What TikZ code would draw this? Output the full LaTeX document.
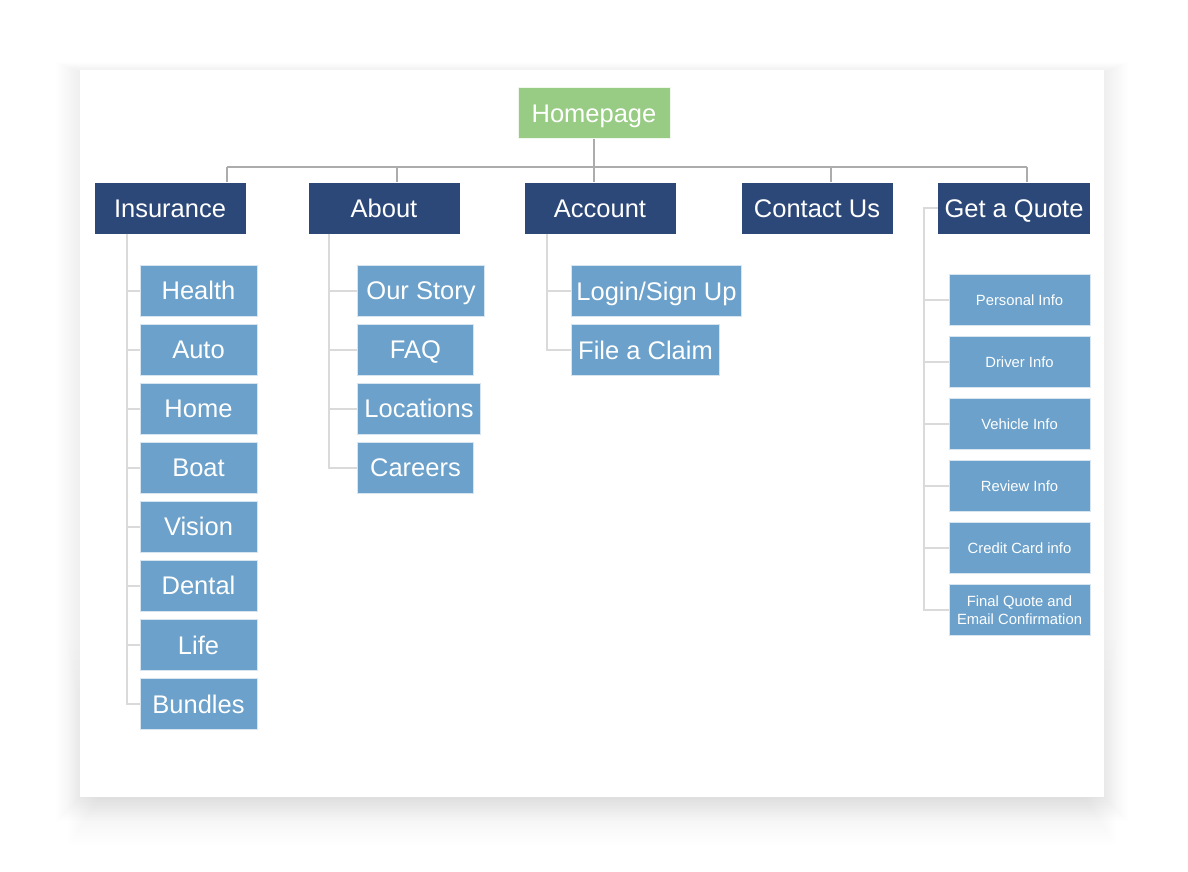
\documentclass[tikz,border=0pt]{standalone}
\usepackage{fontspec}
\setmainfont{Liberation Sans}
\definecolor{navybox}{RGB}{44,72,120}
\definecolor{subblue}{RGB}{107,161,202}
\definecolor{subedge}{RGB}{214,229,240}
\definecolor{homegreen}{RGB}{152,204,132}
\definecolor{busgray}{RGB}{172,172,172}
\definecolor{linkgray}{RGB}{218,218,218}
\begin{document}
\begin{tikzpicture}[x=1pt,y=-1pt,
  base/.style={rectangle, text=white, inner sep=0pt, minimum height=51pt,
    font=\fontsize{25.5}{28}\selectfont, text height=18.3pt, text depth=0pt},
  topbox/.style={base, fill=navybox, minimum width=151pt},
  homebox/.style={base, fill=homegreen, draw=white!85!homegreen, line width=1pt, minimum width=152pt},
  subbox/.style={base, fill=subblue, draw=subedge, line width=1pt},
  insbox/.style={subbox, minimum width=117pt},
  smallbox/.style={subbox, minimum width=141pt,
    font=\fontsize{14.8}{18}\selectfont, text height=10.6pt},
  finalbox/.style={rectangle, text=white, inner sep=0pt, minimum height=51pt,
    fill=subblue, draw=subedge, line width=1pt, minimum width=141pt,
    align=center, font=\fontsize{14.8}{18}\selectfont},
  bus/.style={draw=busgray, line width=2pt},
  link/.style={draw=linkgray, line width=2pt}]
\useasboundingbox (0,0) rectangle (1188,872);
% card shadow and card
\foreach \i in {1,...,16}
  \fill[black, opacity=0.003] (80-\i*1.5,72-\i*0.6) rectangle (1104+\i*1.5,797+\i*1.5);
\foreach \i in {1,...,16}
  \fill[black, opacity=0.004] (100-\i*2,800-\i*10) rectangle (1084+\i*2,797+\i*3);
\fill[white] (80,70) rectangle (1104,797);

% top level
\node[homebox] (home) at (594,113.5) {Homepage};
\node[topbox] (ins) at (170,208) {Insurance};
\node[topbox] (about) at (384,208) {About};
\node[topbox] (acct) at (600,208) {Account};
\node[topbox] (contact) at (817,208) {Contact Us};
\node[topbox, minimum width=152pt] (quote) at (1014,208) {Get a Quote};

% bus
\coordinate (bI) at (227,167);
\coordinate (bA) at (397,167);
\coordinate (bC) at (594,167);
\coordinate (bT) at (831,167);
\coordinate (bQ) at (1027,167);
\draw[bus] (home.south) -- (bC);
\draw[bus] (bI) -- (bQ);
\draw[bus] (bI) -- (bI |- ins.north);
\draw[bus] (bA) -- (bA |- about.north);
\draw[bus] (bC) -- (bC |- acct.north);
\draw[bus] (bT) -- (bT |- contact.north);
\draw[bus] (bQ) -- (bQ |- quote.north);

% Insurance children
\node[insbox] (health) at (198.5,290.5) {Health};
\node[insbox] (auto) at (198.5,349.6) {Auto};
\node[insbox] (homeins) at (198.5,408.6) {Home};
\node[insbox] (boat) at (198.5,467.7) {Boat};
\node[insbox] (vision) at (198.5,526.8) {Vision};
\node[insbox] (dental) at (198.5,585.8) {Dental};
\node[insbox] (life) at (198.5,644.9) {Life};
\node[insbox] (bundles) at (198.5,704) {Bundles};
\coordinate (tI) at (127,0);
\draw[link] (tI |- ins.south) |- (bundles.west);
\foreach \n in {health,auto,homeins,boat,vision,dental,life}
  \draw[link] (tI |- \n.west) -- (\n.west);

% About children
\node[subbox, minimum width=127pt, anchor=west] (story) at (357,290.5) {Our Story};
\node[subbox, minimum width=116pt, anchor=west] (faq) at (357,349.6) {FAQ};
\node[subbox, minimum width=123pt, anchor=west] (loc) at (357,408.6) {Locations};
\node[subbox, minimum width=116pt, anchor=west] (careers) at (357,467.7) {Careers};
\coordinate (tA) at (329,0);
\draw[link] (tA |- about.south) |- (careers.west);
\foreach \n in {story,faq,loc}
  \draw[link] (tA |- \n.west) -- (\n.west);

% Account children
\node[subbox, minimum width=170pt, anchor=west] (login) at (571,291) {Login/Sign Up};
\node[subbox, minimum width=148pt, anchor=west] (claim) at (571,350) {File a Claim};
\coordinate (tC) at (547,0);
\draw[link] (tC |- acct.south) |- (claim.west);
\draw[link] (tC |- login.west) -- (login.west);

% Get a Quote children
\node[smallbox] (personal) at (1019.5,300) {Personal Info};
\node[smallbox] (driver) at (1019.5,362) {Driver Info};
\node[smallbox] (vehicle) at (1019.5,424) {Vehicle Info};
\node[smallbox] (review) at (1019.5,486) {Review Info};
\node[smallbox] (credit) at (1019.5,548) {Credit Card info};
\node[finalbox] (final) at (1019.5,610) {Final Quote and\\Email Confirmation};
\coordinate (tQ) at (924,0);
\draw[link] (quote.west) -| (tQ |- final.west) -- (final.west);
\foreach \n in {personal,driver,vehicle,review,credit}
  \draw[link] (tQ |- \n.west) -- (\n.west);
\end{tikzpicture}
\end{document}
